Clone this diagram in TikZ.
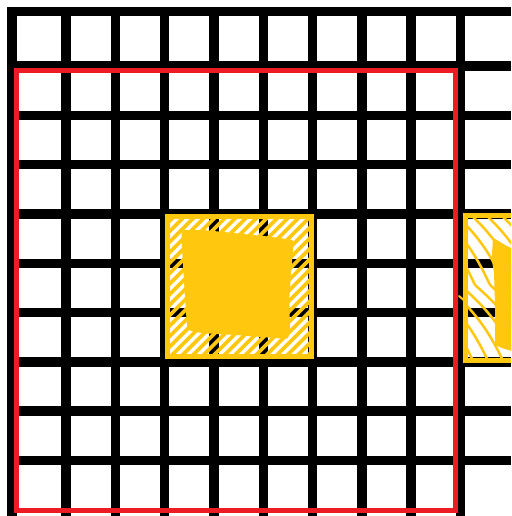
\documentclass[tikz,border=0pt]{standalone}
\definecolor{gold}{RGB}{255,199,14}
\definecolor{pred}{RGB}{237,28,36}
\begin{document}
\begin{tikzpicture}[x=1pt,y=-1pt,
  gridline/.style={line width=9.5pt, black},
  hatchline/.style={gold, line width=3.8pt},
  goldframe/.style={gold, line width=5pt, line join=miter},
  redframe/.style={pred, line width=5pt, line join=miter}]
\clip (0,0) rectangle (511,516);
\fill[white] (0,0) rectangle (511,516);
% grid
\foreach \p in {12,66.2,115.4,164.7,214,263.3,312.6,361.9,411.2,460.5}
  \draw[gridline] (\p,7) -- (\p,516);
\foreach \p in {11.5,66.2,115.4,164.7,214,263.3,312.6,361.9,411.2,460.5}
  \draw[gridline] (7,\p) -- (511,\p);
% left yellow block: hatching
\begin{scope}
  \clip (167.5,216.5) rectangle (311,356.5);
  \foreach \k in {0,...,32}
    \draw[hatchline] ({10+\k*10.5},370) -- ++(170,-170);
\end{scope}
\fill[gold, rounded corners=3pt] (181.7,230) -- (203.3,230) -- (236.7,233.3) -- (270,236.7) -- (294,240)
  -- (291.7,265) -- (289.3,298.3) -- (290,328.3) -- (288.3,339)
  -- (270,337.7) -- (236.7,335) -- (203.3,333.3) -- (188,330.5)
  -- (186.7,321.7) -- (185,298.3) -- (183.3,268.3) -- (181.7,245) -- cycle;
\draw[goldframe] (167.5,216.5) rectangle (311,356.5);
% right yellow block
\begin{scope}
  \clip (465.5,215) rectangle (530,360);
  \foreach \k in {0,...,9}
    \draw[gold, line width=2.5pt] ({400+\k*15},205) to[bend left=12] ++(60,80);
  \foreach \k in {0,...,9}
    \draw[gold, line width=2.5pt] ({400+\k*15},285) to[bend left=12] ++(60,80);
\end{scope}
\fill[gold, rounded corners=2pt] (493,238) -- (497,240) -- (505,245) -- (515,250) -- (515,352)
  -- (501.7,348) -- (495,345) -- (495,305) -- (494,271.7) -- (491.7,260) -- cycle;
\draw[goldframe] (465.5,215) rectangle (530,360);
\draw[gold, line width=2pt, line cap=round] (459,296) -- (466,302);
% red frame
\draw[redframe] (16,70.5) rectangle (455.5,510);
\end{tikzpicture}
\end{document}
